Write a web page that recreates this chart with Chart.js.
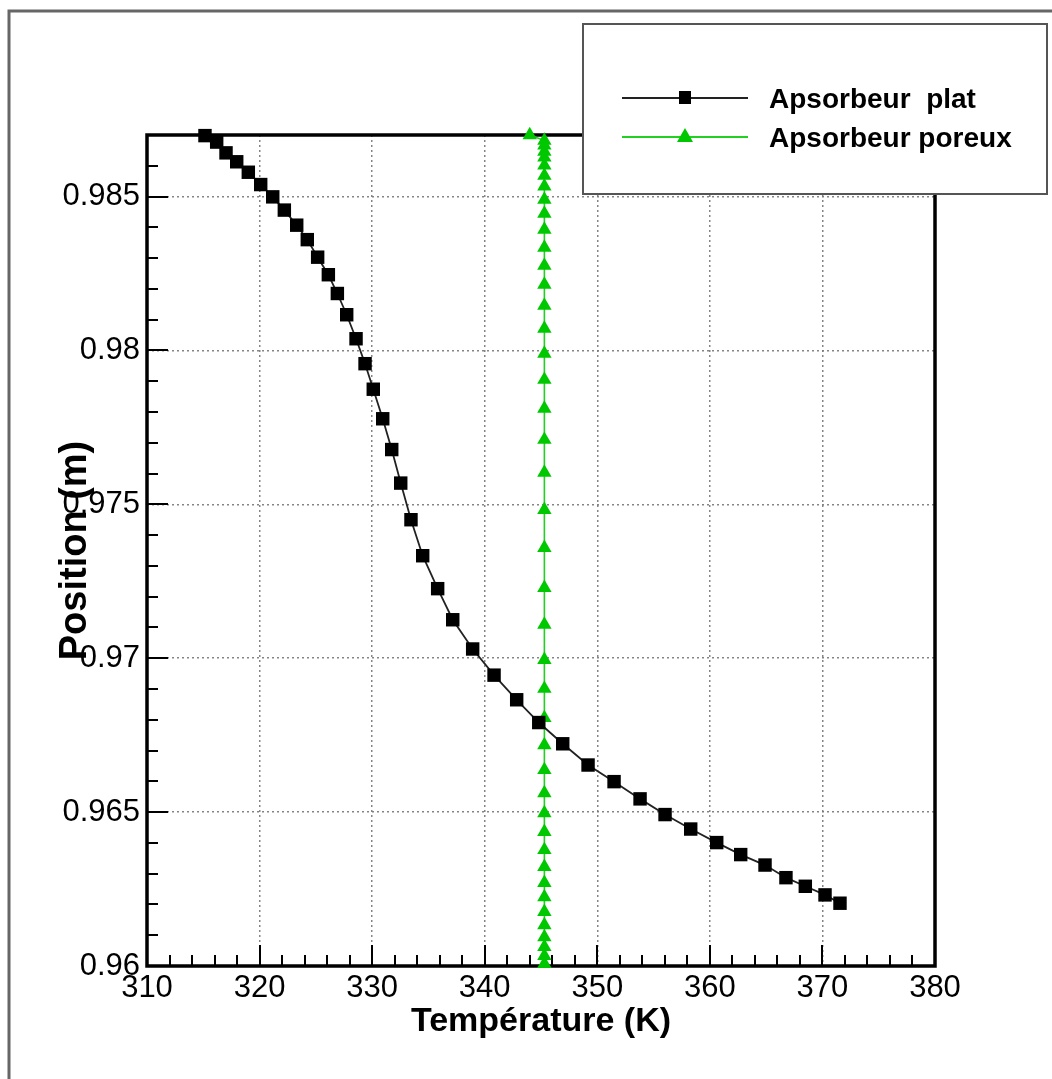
<!DOCTYPE html>
<html>
<head>
<meta charset="utf-8">
<script src="https://cdn.jsdelivr.net/npm/chart.js@4/dist/chart.umd.min.js"></script>
<style>
  html, body { margin: 0; padding: 0; background: #fff; }
  #wrap { width: 1052px; height: 1079px; }
</style>
</head>
<body>
<div id="wrap"><canvas id="c" width="1052" height="1079"></canvas></div>
<script>
// ---- Data ----
const seriesNames = ['Apsorbeur  plat', 'Apsorbeur poreux'];

const platTemperature = [315.15,316.19,317.02,317.97,319.00,320.10,321.17,322.20,323.30,324.24,325.16,326.11,326.91,327.74,328.57,329.37,330.10,330.94,331.74,332.54,333.45,334.49,335.82,337.16,338.93,340.83,342.84,344.80,346.93,349.18,351.49,353.80,356.02,358.30,360.61,362.74,364.90,366.76,368.48,370.23,371.56];
const platPosition = [0.98698,0.98677,0.98642,0.98613,0.98579,0.98539,0.98499,0.98456,0.98407,0.98360,0.98303,0.98246,0.98185,0.98116,0.98038,0.97957,0.97874,0.97778,0.97678,0.97569,0.97450,0.97333,0.97226,0.97125,0.97030,0.96945,0.96865,0.96791,0.96722,0.96653,0.96599,0.96543,0.96492,0.96445,0.96401,0.96362,0.96328,0.96287,0.96259,0.96231,0.96204];

const poreuxTemperature = [344.0,345.3,345.3,345.3,345.3,345.3,345.3,345.3,345.3,345.3,345.3,345.3,345.3,345.3,345.3,345.3,345.3,345.3,345.3,345.3,345.3,345.3,345.3,345.3,345.3,345.3,345.3,345.3,345.3,345.3,345.3,345.3,345.3,345.3,345.3,345.3,345.3,345.3,345.3,345.3,345.3,345.3,345.3];
const poreuxPosition = [0.98700,0.98682,0.98666,0.98646,0.98627,0.98601,0.98568,0.98533,0.98490,0.98445,0.98393,0.98334,0.98276,0.98214,0.98146,0.98071,0.97990,0.97905,0.97811,0.97710,0.97603,0.97482,0.97359,0.97229,0.97109,0.96995,0.96901,0.96806,0.96718,0.96637,0.96562,0.96497,0.96436,0.96377,0.96322,0.96270,0.96224,0.96176,0.96133,0.96094,0.96062,0.96033,0.96007];

const xTickValues = [310,320,330,340,350,360,370,380];
const xTickLabels = ['310','320','330','340','350','360','370','380'];
const yTickValues = [0.960,0.965,0.970,0.975,0.980,0.985];
const yTickLabels = ['0.96','0.965','0.97','0.975','0.98','0.985'];

const xTitle = 'Température (K)';
const yTitle = 'Position (m)';

// ---- Chart ----
const toXY = (xs, ys) => xs.map((x, i) => ({x: x, y: ys[i]}));

const bgPlugin = {
  id: 'bg',
  beforeDraw(chart) {
    const ctx = chart.ctx;
    ctx.save();
    ctx.fillStyle = '#fff';
    ctx.fillRect(0, 0, chart.width, chart.height);
    ctx.strokeStyle = '#666';
    ctx.lineWidth = 3;
    ctx.beginPath();
    ctx.moveTo(9, chart.height);
    ctx.lineTo(9, 11);
    ctx.lineTo(chart.width, 11);
    ctx.stroke();
    ctx.restore();
  }
};

const framePlugin = {
  id: 'frame',
  beforeDatasetsDraw(chart) {
    const ctx = chart.ctx;
    const a = chart.chartArea;
    const xs = chart.scales.x, ys = chart.scales.y;
    ctx.save();
    ctx.strokeStyle = '#000';
    ctx.lineWidth = 2;
    for (let v = 310; v <= 380.001; v += 2) {
      const major = Math.abs(v / 10 - Math.round(v / 10)) < 1e-6;
      const px = Math.round(xs.getPixelForValue(v));
      ctx.beginPath();
      ctx.moveTo(px, a.bottom);
      ctx.lineTo(px, a.bottom - (major ? 21 : 11));
      ctx.stroke();
    }
    for (let k = 960; k <= 987; k++) {
      const v = k / 1000;
      const major = k % 5 === 0;
      const py = Math.round(ys.getPixelForValue(v));
      ctx.beginPath();
      ctx.moveTo(a.left, py);
      ctx.lineTo(a.left + (major ? 21 : 11), py);
      ctx.stroke();
    }
    ctx.lineWidth = 3.5;
    ctx.strokeRect(a.left, a.top, a.right - a.left, a.bottom - a.top);
    ctx.restore();
  }
};

const legendPlugin = {
  id: 'boxLegend',
  afterDraw(chart) {
    const ctx = chart.ctx;
    ctx.save();
    ctx.fillStyle = '#fff';
    ctx.fillRect(583, 24, 464, 170);
    ctx.strokeStyle = '#555';
    ctx.lineWidth = 2;
    ctx.strokeRect(583, 24, 464, 170);
    const rows = [
      {y: 98, ds: chart.data.datasets[0]},
      {y: 137, ds: chart.data.datasets[1]}
    ];
    rows.forEach((r, i) => {
      ctx.strokeStyle = r.ds.borderColor;
      ctx.lineWidth = 2;
      ctx.beginPath();
      ctx.moveTo(622, r.y);
      ctx.lineTo(748, r.y);
      ctx.stroke();
      ctx.fillStyle = r.ds.pointBackgroundColor;
      if (i === 0) {
        ctx.fillRect(685 - 6, r.y - 7, 12, 13);
      } else {
        ctx.beginPath();
        ctx.moveTo(685, r.y - 9);
        ctx.lineTo(685 + 8, r.y + 5);
        ctx.lineTo(685 - 8, r.y + 5);
        ctx.closePath();
        ctx.fill();
      }
      ctx.fillStyle = '#000';
      ctx.font = 'bold 28px "Liberation Sans", Arial, sans-serif';
      ctx.textBaseline = 'alphabetic';
      ctx.textAlign = 'left';
      ctx.fillText(r.ds.label, 769, r.y + 10);
    });
    ctx.restore();
  }
};

new Chart(document.getElementById('c'), {
  type: 'line',
  data: {
    datasets: [
      {
        label: seriesNames[0],
        data: toXY(platTemperature, platPosition),
        borderColor: '#222',
        borderWidth: 1.8,
        pointStyle: 'rect',
        pointRadius: 9.5,
        pointBackgroundColor: '#000',
        pointBorderColor: '#000',
        pointBorderWidth: 0,
        tension: 0,
        clip: false
      },
      {
        label: seriesNames[1],
        data: toXY(poreuxTemperature, poreuxPosition),
        borderColor: '#22d022',
        borderWidth: 1.6,
        pointStyle: 'triangle',
        pointRadius: 8.3,
        pointBackgroundColor: '#00c800',
        pointBorderColor: '#00c800',
        pointBorderWidth: 0,
        tension: 0,
        clip: false
      }
    ]
  },
  options: {
    responsive: false,
    animation: false,
    events: [],
    layout: { padding: { top: 135, right: 117, left: 0, bottom: 0 } },
    plugins: { legend: { display: false }, tooltip: { enabled: false } },
    scales: {
      x: {
        type: 'linear',
        min: 310, max: 380,
        afterBuildTicks: (s) => { s.ticks = xTickValues.map(v => ({value: v})); },
        afterFit: (s) => { s.height = 113; },
        ticks: {
          callback: (v) => { const i = xTickValues.indexOf(v); return i >= 0 ? xTickLabels[i] : ''; },
          font: { family: '"Liberation Sans", Arial, sans-serif', size: 31 },
          color: '#000',
          padding: 4,
          maxRotation: 0, autoSkip: false
        },
        grid: {
          drawTicks: false,
          color: 'rgba(120,120,120,0.9)',
          lineWidth: 1.5
        },
        border: { display: false, dash: [2, 3] },
        title: {
          display: true,
          text: xTitle,
          font: { family: '"Liberation Sans", Arial, sans-serif', size: 34, weight: 'bold' },
          color: '#000',
          padding: { top: 0, bottom: 37 }
        }
      },
      y: {
        type: 'linear',
        min: 0.96, max: 0.987,
        afterBuildTicks: (s) => { s.ticks = yTickValues.map(v => ({value: v})); },
        afterFit: (s) => { s.width = 147; },
        ticks: {
          callback: (v) => {
            let idx = -1;
            yTickValues.forEach((t, i) => { if (Math.abs(t - v) < 1e-9) idx = i; });
            return idx >= 0 ? yTickLabels[idx] : '';
          },
          font: { family: '"Liberation Sans", Arial, sans-serif', size: 31 },
          color: '#000',
          padding: 7,
          autoSkip: false
        },
        grid: {
          drawTicks: false,
          color: 'rgba(120,120,120,0.9)',
          lineWidth: 1.5
        },
        border: { display: false, dash: [2, 3] },
        title: {
          display: true,
          text: yTitle,
          font: { family: '"Liberation Sans", Arial, sans-serif', size: 38, weight: 'bold' },
          color: '#000',
          padding: { top: 53, bottom: 0 }
        }
      }
    }
  },
  plugins: [bgPlugin, framePlugin, legendPlugin]
});
</script>
</body>
</html>
